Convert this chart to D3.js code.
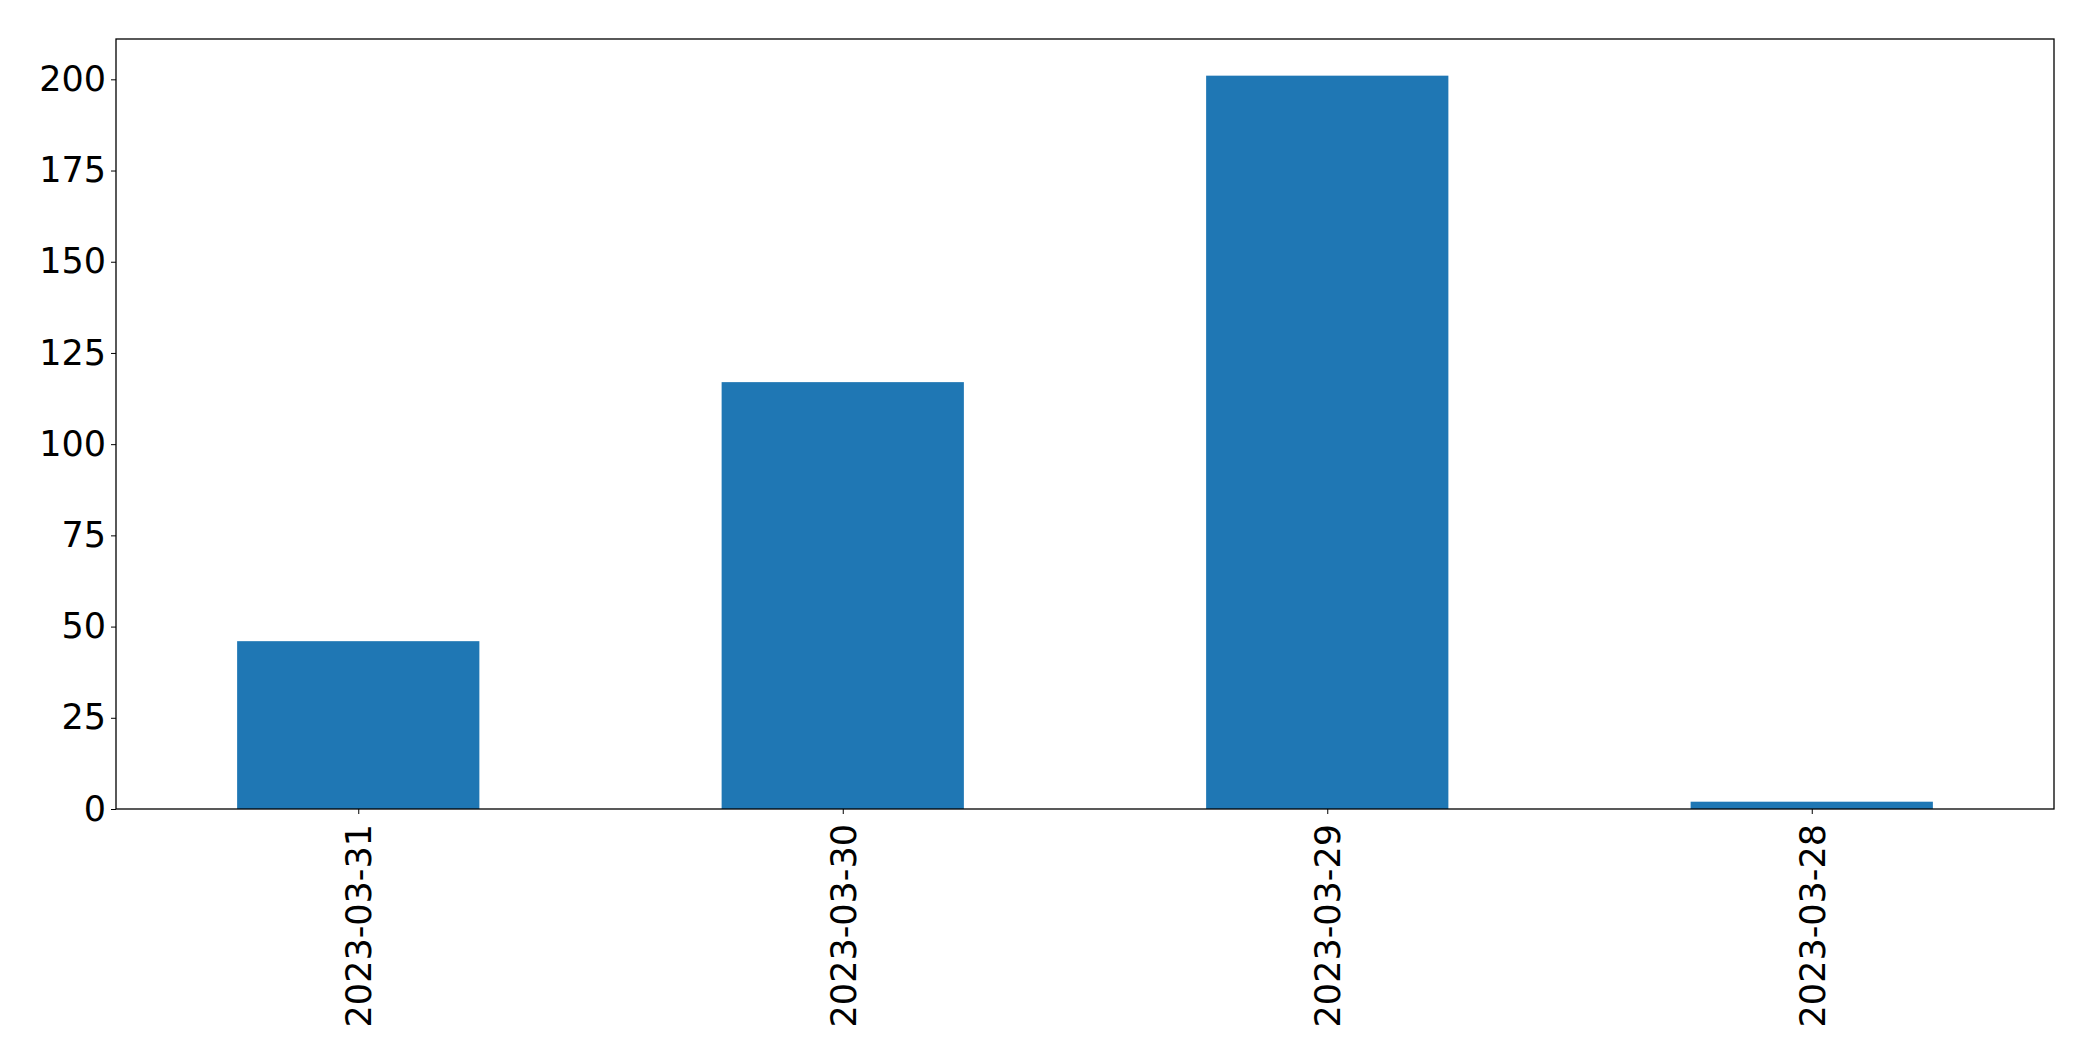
<!DOCTYPE html>
<html><head><meta charset="utf-8">
<script src="https://cdn.jsdelivr.net/npm/d3@7"></script>
<style>body{margin:0;background:#fff}svg{display:block}</style>
</head><body>
<script>
const categories = ["2023-03-31", "2023-03-30", "2023-03-29", "2023-03-28"];
const values = [46, 117, 201, 2];
const yTicks = [0, 25, 50, 75, 100, 125, 150, 175, 200];

const W = 2093, H = 1061;
const m = {left: 116, right: 2054, top: 39, bottom: 809};
const svg = d3.select("body").append("svg").attr("width", W).attr("height", H);

const x = d3.scaleLinear().domain([-0.5, categories.length - 0.5]).range([m.left, m.right]);
const y = d3.scaleLinear().domain([0, d3.max(values) * 1.05]).range([m.bottom, m.top]);
const bw = x(0.25) - x(-0.25);

svg.append("g").selectAll("rect").data(values).join("rect")
  .attr("x", (d, i) => x(i) - bw / 2)
  .attr("width", bw)
  .attr("y", d => y(d))
  .attr("height", d => y(0) - y(d))
  .attr("fill", "#1f77b4");

const font = "DejaVu Sans";
const fs = 35;
const yAxis = svg.append("g").attr("transform", `translate(${m.left},0)`)
  .call(d3.axisLeft(y).tickValues(yTicks).tickSize(5).tickPadding(5).tickFormat(d3.format("d")));
yAxis.select(".domain").remove();
yAxis.selectAll("text").attr("font-family", font).attr("font-size", fs).attr("fill", "#000");
yAxis.selectAll("line").attr("stroke", "#000").attr("stroke-width", 1);

const xAxis = svg.append("g").attr("transform", `translate(0,${m.bottom})`)
  .call(d3.axisBottom(x).tickValues(d3.range(categories.length)).tickSize(5).tickFormat(i => categories[i]));
xAxis.select(".domain").remove();
xAxis.selectAll("line").attr("stroke", "#000").attr("stroke-width", 1);
xAxis.selectAll("text")
  .attr("font-family", font).attr("font-size", fs).attr("fill", "#000")
  .attr("transform", "rotate(-90)")
  .attr("x", -15).attr("y", 0).attr("dy", "0.35em")
  .attr("text-anchor", "end");

svg.append("rect").attr("x", m.left).attr("y", m.top)
  .attr("width", m.right - m.left).attr("height", m.bottom - m.top)
  .attr("fill", "none").attr("stroke", "#000").attr("stroke-width", 1.3);
</script>
</body></html>
